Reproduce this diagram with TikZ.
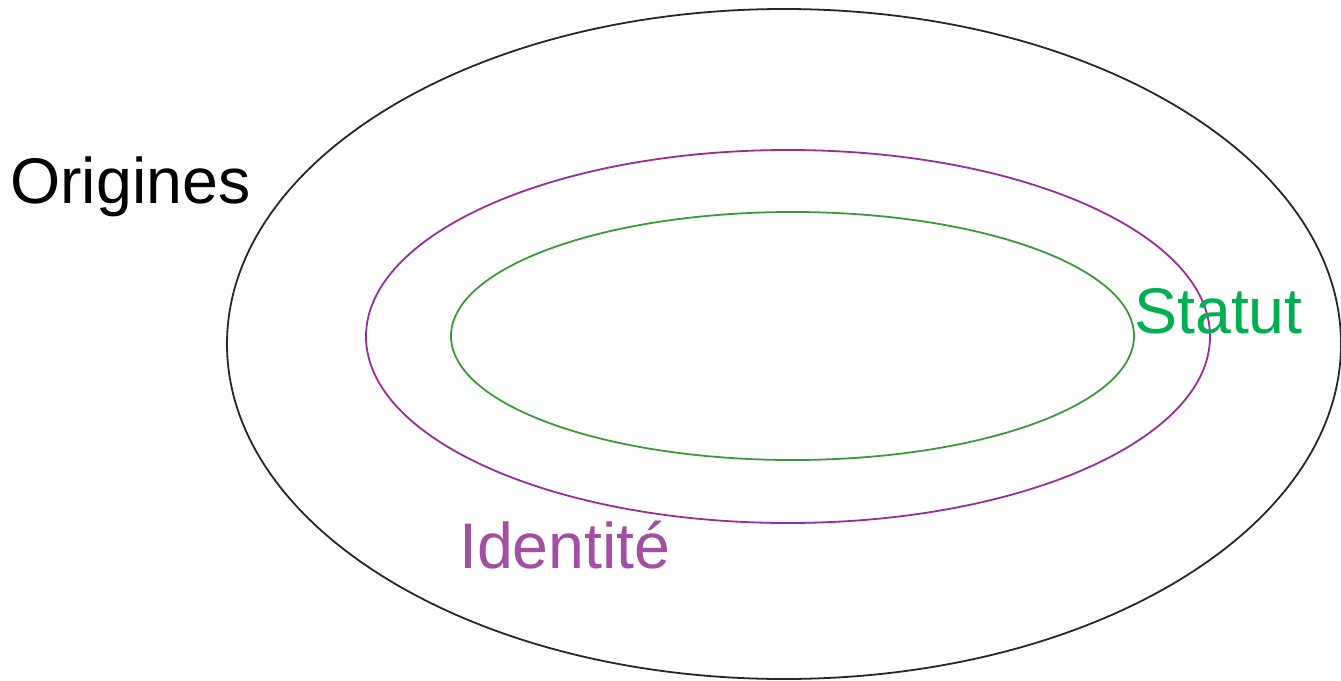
\documentclass[tikz,border=0pt]{standalone}
\usepackage{fontspec}
\setmainfont{Liberation Sans}
\definecolor{purpleline}{HTML}{9A2C9A}
\definecolor{purpletext}{HTML}{A24FA2}
\definecolor{greenline}{HTML}{3A9A3A}
\definecolor{greentext}{HTML}{00B050}
\tikzset{
  ring/.style={line width=1.8pt},
  lbl/.style={anchor=base west, inner sep=0pt, font=\fontsize{64.5}{72}\selectfont}
}
\begin{document}
\begin{tikzpicture}[x=1pt,y=-1pt]
\useasboundingbox (0,0) rectangle (1341,680);
\draw[ring, black!85] (784,344) ellipse [x radius=557, y radius=335];
\draw[ring, purpleline] (788,336.5) ellipse [x radius=422, y radius=186.5];
\draw[ring, greenline] (792.5,336) ellipse [x radius=341.5, y radius=124];
\node[lbl, text=black] (origines) at (10,203) {Origines};
\node[lbl, text=greentext] (statut) at (1134,333) {Statut};
\node[lbl, text=purpletext] (identite) at (459,568) {Identité};
\end{tikzpicture}
\end{document}
